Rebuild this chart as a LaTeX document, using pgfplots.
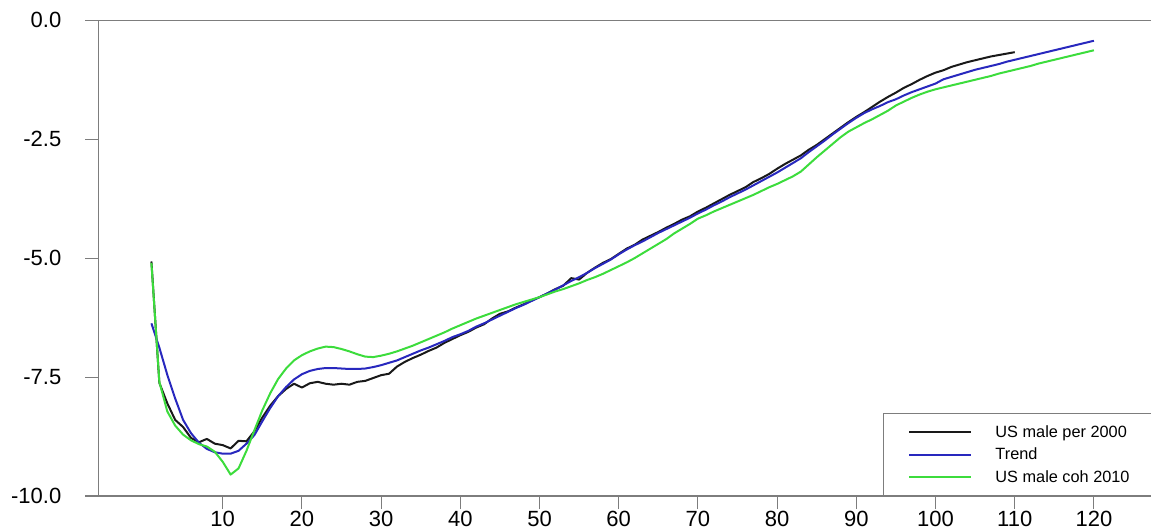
\documentclass[border=0pt]{standalone}
\usepackage{pgfplots}
\pgfplotsset{compat=1.18}
\usepackage{fontspec}
\setmainfont{Liberation Sans}
\definecolor{axgray}{RGB}{125,125,125}
\definecolor{cblack}{RGB}{25,25,25}
\definecolor{cblue}{RGB}{40,40,190}
\definecolor{cgreen}{RGB}{60,220,60}
\begin{document}
\begin{tikzpicture}[x=1pt,y=1pt]
\begin{axis}[
 at={(0pt,0pt)}, anchor=south west,
 scale only axis, width=1059.06pt, height=475.7pt,
 xmin=-5.72, xmax=128, ymin=-10, ymax=0,
 axis line style={axgray, line width=1.1pt},
 tick style={axgray, line width=1.1pt},
 tick align=outside, major tick length=13pt,
 xtick pos=left, ytick pos=left,
 xtick={10,20,...,120}, xticklabels={10,20,30,40,50,60,70,80,90,100,110,120},
 ytick={-10,-7.5,-5,-2.5,0}, yticklabels={-10.0,-7.5,-5.0,-2.5,0.0},
 ticklabel style={font=\fontsize{22}{26}\selectfont, inner sep=0pt},
 xticklabel style={anchor=north, yshift=-1.5pt},
 yticklabel style={anchor=east, xshift=-23.7pt},
 legend style={at={(0.7407,0.1745)}, anchor=north west, draw=axgray, line width=1pt, fill=white,
   inner xsep=0pt, inner ysep=7pt, row sep=0pt, column sep=0pt,
   font=\fontsize{16.3}{19}\selectfont, nodes={inner sep=0pt, minimum height=22.8pt}},
 legend cell align=left,
 legend image code/.code={\path (0pt,-1pt) (110.3pt,1pt); \draw[#1] (25.3pt,0pt) -- (87.3pt,0pt);},
]
\addplot[cblack, line width=2pt, line join=round] coordinates {
(1,-5.07) (2,-7.62) (3,-8.05) (4,-8.40) (5,-8.55) (6,-8.78) (7,-8.87) (8,-8.80) (9,-8.90) (10,-8.93)
(11,-9.00) (12,-8.84) (13,-8.85) (14,-8.64) (15,-8.35) (16,-8.10) (17,-7.90) (18,-7.75) (19,-7.64) (20,-7.72)
(21,-7.63) (22,-7.60) (23,-7.64) (24,-7.66) (25,-7.64) (26,-7.66) (27,-7.60) (28,-7.58) (29,-7.52) (30,-7.46)
(31,-7.43) (32,-7.28) (33,-7.18) (34,-7.10) (35,-7.03) (36,-6.95) (37,-6.88) (38,-6.78) (39,-6.70) (40,-6.62)
(41,-6.55) (42,-6.46) (43,-6.39) (44,-6.27) (45,-6.17) (46,-6.12) (47,-6.04) (48,-5.97) (49,-5.89) (50,-5.82)
(51,-5.74) (52,-5.65) (53,-5.58) (54,-5.42) (55,-5.45) (56,-5.31) (57,-5.20) (58,-5.10) (59,-5.02) (60,-4.91)
(61,-4.80) (62,-4.72) (63,-4.61) (64,-4.53) (65,-4.45) (66,-4.36) (67,-4.28) (68,-4.19) (69,-4.12) (70,-4.02)
(71,-3.94) (72,-3.85) (73,-3.76) (74,-3.67) (75,-3.59) (76,-3.51) (77,-3.40) (78,-3.32) (79,-3.23) (80,-3.12)
(81,-3.02) (82,-2.93) (83,-2.84) (84,-2.72) (85,-2.62) (86,-2.50) (87,-2.38) (88,-2.26) (89,-2.14) (90,-2.03)
(91,-1.93) (92,-1.82) (93,-1.71) (94,-1.61) (95,-1.52) (96,-1.42) (97,-1.34) (98,-1.25) (99,-1.17) (100,-1.10)
(101,-1.05) (102,-0.98) (103,-0.93) (104,-0.88) (105,-0.84) (106,-0.80) (107,-0.76) (108,-0.73) (109,-0.70) (110,-0.67)
};
\addlegendentry{US male per 2000\hspace*{40pt}}
\addplot[cblue, line width=2pt, line join=round] coordinates {
(1,-6.37) (2,-6.88) (3,-7.45) (4,-7.95) (5,-8.40) (6,-8.68) (7,-8.88) (8,-9.01) (9,-9.08) (10,-9.11)
(11,-9.11) (12,-9.05) (13,-8.90) (14,-8.72) (15,-8.43) (16,-8.15) (17,-7.90) (18,-7.71) (19,-7.55) (20,-7.44)
(21,-7.37) (22,-7.33) (23,-7.31) (24,-7.31) (25,-7.32) (26,-7.33) (27,-7.33) (28,-7.32) (29,-7.29) (30,-7.25)
(31,-7.20) (32,-7.15) (33,-7.08) (34,-7.01) (35,-6.94) (36,-6.88) (37,-6.81) (38,-6.74) (39,-6.66) (40,-6.60)
(41,-6.53) (42,-6.44) (43,-6.37) (44,-6.29) (45,-6.21) (46,-6.13) (47,-6.05) (48,-5.98) (49,-5.90) (50,-5.82)
(51,-5.74) (52,-5.66) (53,-5.57) (54,-5.48) (55,-5.40) (56,-5.31) (57,-5.21) (58,-5.12) (59,-5.03) (60,-4.92)
(61,-4.82) (62,-4.73) (63,-4.65) (64,-4.56) (65,-4.47) (66,-4.39) (67,-4.31) (68,-4.23) (69,-4.15) (70,-4.06)
(71,-3.98) (72,-3.89) (73,-3.81) (74,-3.72) (75,-3.64) (76,-3.56) (77,-3.47) (78,-3.38) (79,-3.29) (80,-3.20)
(81,-3.10) (82,-3.00) (83,-2.90) (84,-2.77) (85,-2.65) (86,-2.53) (87,-2.40) (88,-2.28) (89,-2.16) (90,-2.05)
(91,-1.95) (92,-1.87) (93,-1.80) (94,-1.72) (95,-1.66) (96,-1.58) (97,-1.51) (98,-1.45) (99,-1.39) (100,-1.33)
(101,-1.24) (102,-1.19) (103,-1.14) (104,-1.09) (105,-1.04) (106,-1.00) (107,-0.96) (108,-0.92) (109,-0.87) (110,-0.83)
(111,-0.79) (112,-0.75) (113,-0.71) (114,-0.67) (115,-0.63) (116,-0.59) (117,-0.55) (118,-0.51) (119,-0.47) (120,-0.43)
};
\addlegendentry{Trend}
\addplot[cgreen, line width=2pt, line join=round] coordinates {
(1,-5.10) (2,-7.60) (3,-8.22) (4,-8.52) (5,-8.71) (6,-8.83) (7,-8.91) (8,-8.96) (9,-9.07) (10,-9.28)
(11,-9.55) (12,-9.42) (13,-9.05) (14,-8.62) (15,-8.20) (16,-7.84) (17,-7.54) (18,-7.32) (19,-7.15) (20,-7.04)
(21,-6.96) (22,-6.90) (23,-6.86) (24,-6.87) (25,-6.91) (26,-6.96) (27,-7.02) (28,-7.07) (29,-7.08) (30,-7.05)
(31,-7.01) (32,-6.96) (33,-6.90) (34,-6.84) (35,-6.77) (36,-6.70) (37,-6.63) (38,-6.56) (39,-6.48) (40,-6.41)
(41,-6.34) (42,-6.27) (43,-6.21) (44,-6.15) (45,-6.09) (46,-6.03) (47,-5.97) (48,-5.92) (49,-5.87) (50,-5.82)
(51,-5.76) (52,-5.70) (53,-5.65) (54,-5.59) (55,-5.53) (56,-5.46) (57,-5.40) (58,-5.33) (59,-5.25) (60,-5.17)
(61,-5.09) (62,-5.00) (63,-4.90) (64,-4.80) (65,-4.70) (66,-4.60) (67,-4.48) (68,-4.38) (69,-4.28) (70,-4.17)
(71,-4.10) (72,-4.02) (73,-3.95) (74,-3.88) (75,-3.81) (76,-3.74) (77,-3.67) (78,-3.59) (79,-3.51) (80,-3.44)
(81,-3.36) (82,-3.28) (83,-3.18) (84,-3.03) (85,-2.88) (86,-2.74) (87,-2.60) (88,-2.46) (89,-2.34) (90,-2.25)
(91,-2.16) (92,-2.08) (93,-1.99) (94,-1.90) (95,-1.79) (96,-1.71) (97,-1.63) (98,-1.56) (99,-1.50) (100,-1.45)
(101,-1.41) (102,-1.37) (103,-1.33) (104,-1.29) (105,-1.25) (106,-1.21) (107,-1.17) (108,-1.12) (109,-1.08) (110,-1.04)
(111,-1.00) (112,-0.96) (113,-0.91) (114,-0.87) (115,-0.83) (116,-0.79) (117,-0.75) (118,-0.71) (119,-0.67) (120,-0.63)
};
\addlegendentry{US male coh 2010}
\end{axis}
\pgfresetboundingbox
\path (-98.2,-35) rectangle (1052.8,496);
\end{tikzpicture}
\end{document}
